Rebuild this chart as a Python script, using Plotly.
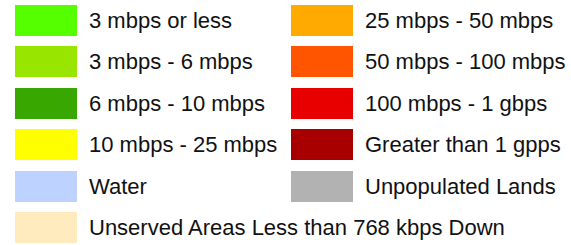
import plotly.graph_objects as go

labels = [
    "3 mbps or less", "3 mbps - 6 mbps", "6 mbps - 10 mbps", "10 mbps - 25 mbps", "Water",
    "25 mbps - 50 mbps", "50 mbps - 100 mbps", "100 mbps - 1 gbps", "Greater than 1 gpps",
    "Unpopulated Lands", "Unserved Areas Less than 768 kbps Down",
]
colors = [
    "#55FF00", "#98E600", "#38A800", "#FFFF00", "#BED2FF",
    "#FFAA00", "#FF5500", "#E60000", "#A80000",
    "#B2B2B2", "#FFEBBE",
]
columns = [0, 0, 0, 0, 0, 1, 1, 1, 1, 1, 0]
rows = [0, 1, 2, 3, 4, 0, 1, 2, 3, 4, 5]

W, H = 571, 245
col_x = [15, 291]
sw_w, sw_h = 62, 31
text_gap = 9.5
row_y0, row_pitch = 20.5, 41.4

xs = [col_x[c] for c in columns]
ys = [row_y0 + row_pitch * r for r in rows]

fig = go.Figure()
fig.add_trace(go.Bar(
    orientation="h",
    base=xs,
    x=[sw_w] * len(xs),
    y=ys,
    width=sw_h,
    marker=dict(color=colors, line=dict(width=0)),
    hoverinfo="skip",
    showlegend=False,
))
for lab, x, y in zip(labels, xs, ys):
    fig.add_annotation(
        x=x + sw_w + text_gap, y=y, text=lab, showarrow=False,
        xanchor="left", yanchor="middle", xref="x", yref="y",
        font=dict(family="Liberation Sans, Arial, sans-serif", size=22, color="#111111"),
    )

fig.update_layout(
    width=W, height=H,
    margin=dict(l=0, r=0, t=0, b=0),
    paper_bgcolor="white", plot_bgcolor="white",
    xaxis=dict(range=[0, W], visible=False, fixedrange=True),
    yaxis=dict(range=[H, 0], visible=False, fixedrange=True),
    bargap=0,
)
fig.write_html(
    "out.html",
    config={"displayModeBar": False},
    post_script="document.body.style.margin='0';document.body.style.overflow='hidden';",
)
